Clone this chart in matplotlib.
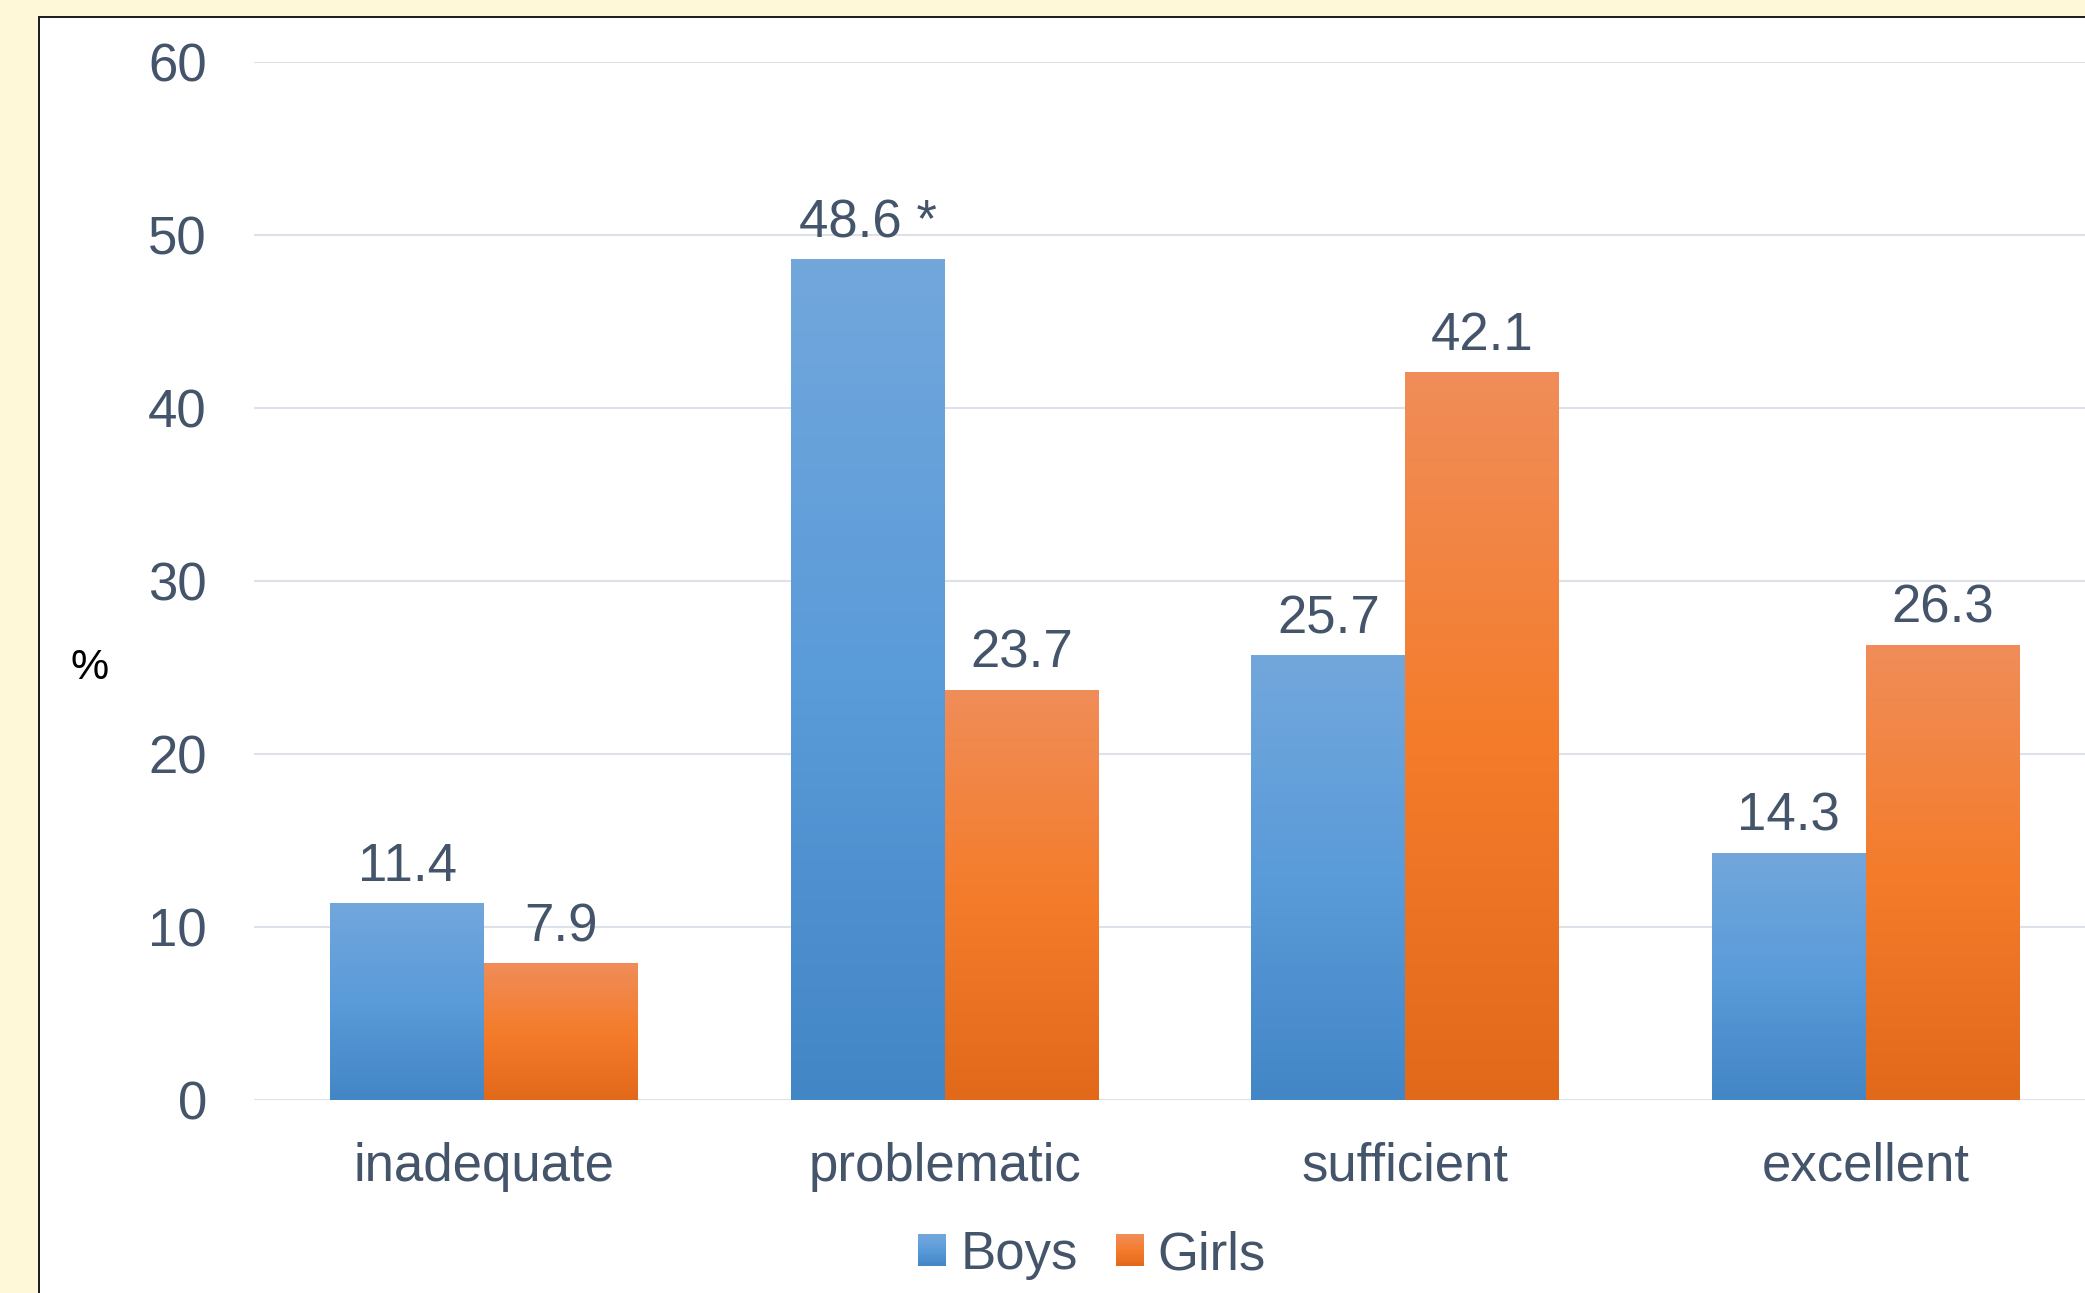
import numpy as np
import matplotlib
matplotlib.use("Agg")
import matplotlib.pyplot as plt
from matplotlib.patches import Rectangle
from matplotlib.colors import LinearSegmentedColormap
from matplotlib.legend_handler import HandlerBase

categories = ["inadequate", "problematic", "sufficient", "excellent"]
boys = [11.4, 48.6, 25.7, 14.3]
girls = [7.9, 23.7, 42.1, 26.3]
boys_marks = ["", " *", "", ""]
girls_marks = ["", "", "", ""]
yticks = [0, 10, 20, 30, 40, 50, 60]

TEXT = "#44546a"
GRID = "#dde2ea"
blue_stops = ["#72a7dc", "#5a9bd9", "#4386c6"]
orange_stops = ["#f08d59", "#f47c2b", "#e2691a"]

plt.rcParams["font.family"] = ["Liberation Sans", "DejaVu Sans"]

W, H = 2085, 1293
fig = plt.figure(figsize=(W / 100, H / 100), dpi=100)
fig.patch.set_facecolor("#fff8d8")

# white chart panel with a dark border (left and top edges visible)
panel = Rectangle((39 / W, -0.2), 1.2, 1.2 - 17 / H, transform=fig.transFigure,
                  facecolor="white", edgecolor="#1a1a1a", lw=1.4, zorder=0)
fig.add_artist(panel)

x0, x_right, y0, y_top = 254, 2096, 1100, 62
ax = fig.add_axes([x0 / W, 1 - y0 / H, (x_right - x0) / W, (y0 - y_top) / H])
ax.set_facecolor("none")
for s in ax.spines.values():
    s.set_visible(False)

x = np.arange(len(categories))
width = 0.334

boys_bars = ax.bar(x - width / 2, boys, width, color=blue_stops[1], zorder=2, label="Boys")
girls_bars = ax.bar(x + width / 2, girls, width, color=orange_stops[1], zorder=2, label="Girls")

# vertical gradient fill for each bar, clipped to the bar shape
grad = np.linspace(0, 1, 256).reshape(-1, 1)
for bars, stops in ((boys_bars, blue_stops), (girls_bars, orange_stops)):
    cmap = LinearSegmentedColormap.from_list("g", stops)
    for b in bars:
        xb, yb, wb, hb = b.get_x(), b.get_y(), b.get_width(), b.get_height()
        im = ax.imshow(grad, cmap=cmap, aspect="auto", origin="upper",
                       extent=(xb, xb + wb, yb, yb + hb), zorder=3)
        im.set_clip_path(b)
ax.set_xlim(-0.5, len(categories) - 0.5)
ax.set_ylim(0, 60)

ax.bar_label(boys_bars, labels=[f"{v}{m}" for v, m in zip(boys, boys_marks)],
             padding=8, fontsize=38, color=TEXT, zorder=4)
ax.bar_label(girls_bars, labels=[f"{v}{m}" for v, m in zip(girls, girls_marks)],
             padding=8, fontsize=38, color=TEXT, zorder=4)

ax.set_yticks(yticks)
ax.set_xticks(x)
ax.set_xticklabels(categories)
ax.tick_params(axis="y", length=0, pad=34, labelsize=38, labelcolor=TEXT)
ax.tick_params(axis="x", length=0, pad=30, labelsize=38, labelcolor=TEXT)
ax.yaxis.grid(True, color=GRID, lw=1.5, zorder=1)
ax.set_axisbelow(True)

fig.text(90 / W, 1 - 668 / H, "%", fontsize=31, color="black", ha="center", va="center")


class GradientSquare(HandlerBase):
    def __init__(self, stops):
        super().__init__()
        self.stops = stops

    def create_artists(self, legend, orig_handle, xdescent, ydescent, width, height, fontsize, trans):
        cmap = LinearSegmentedColormap.from_list("g", self.stops)
        n = 12
        out = []
        for i in range(n):
            c = cmap(1 - (i + 0.5) / n)
            out.append(Rectangle((-xdescent, -ydescent + height * i / n), width, height / n + 0.3,
                                 facecolor=c, edgecolor="none", transform=trans))
        return out


fig.legend(handles=[boys_bars, girls_bars], labels=["Boys", "Girls"],
           loc="center", bbox_to_anchor=(1092 / W, 1 - 1255 / H), ncol=2, frameon=False,
           fontsize=38, labelcolor=TEXT, handlelength=0.53, handleheight=0.53,
           handletextpad=0.27, columnspacing=0.72,
           handler_map={boys_bars: GradientSquare(blue_stops), girls_bars: GradientSquare(orange_stops)})

fig.savefig("out.png", dpi=100)
